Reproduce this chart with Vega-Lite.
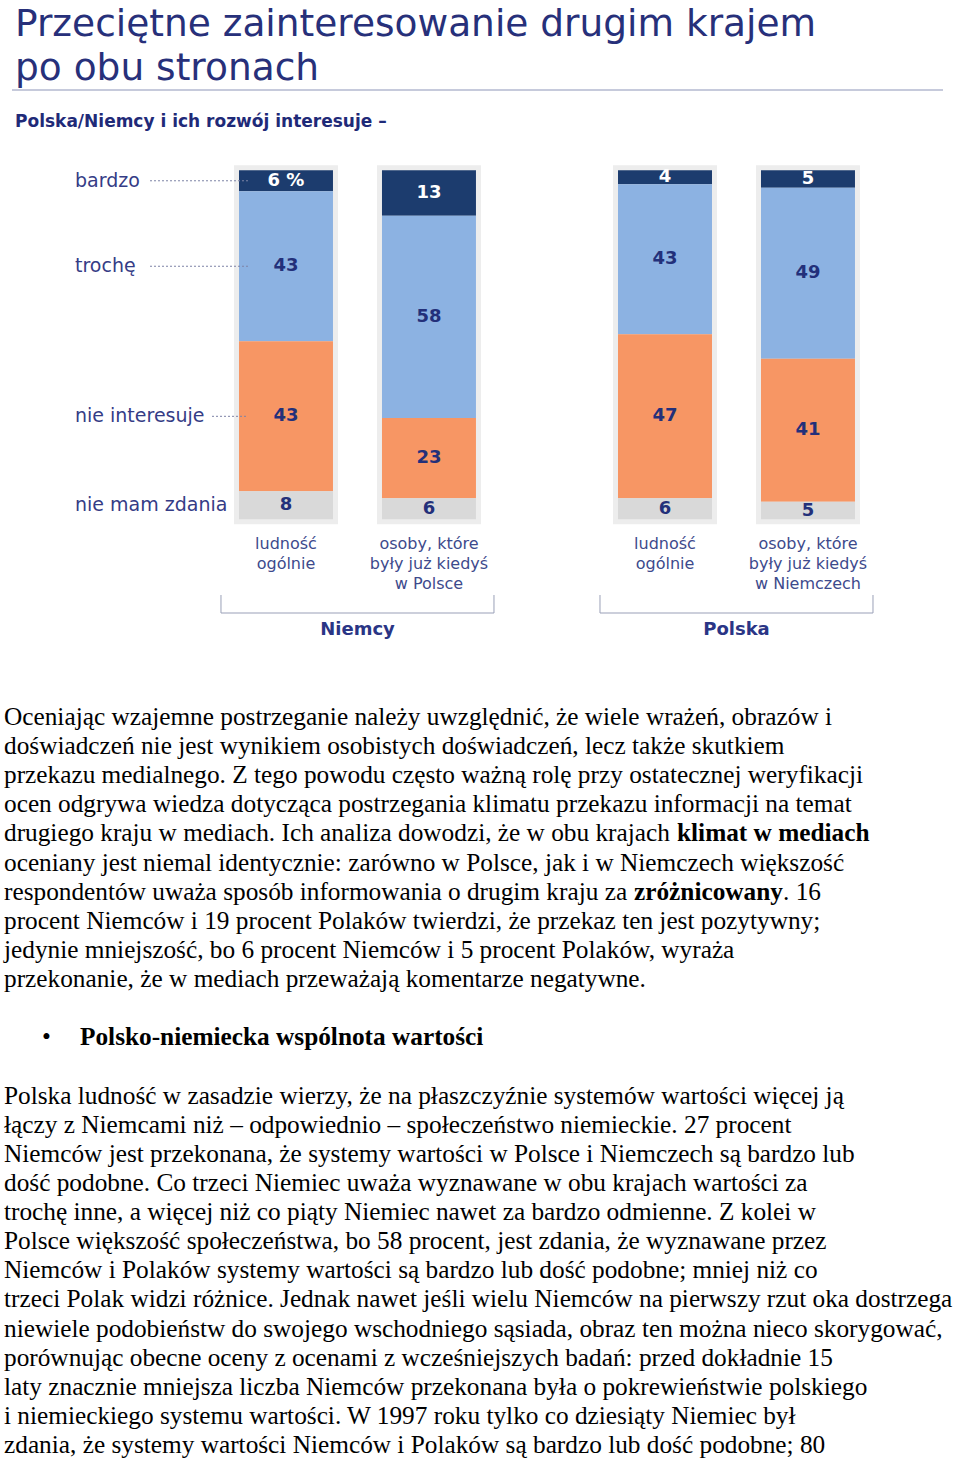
{
  "$schema": "https://vega.github.io/schema/vega-lite/v6.json",
  "width": 960,
  "height": 1458,
  "padding": 0,
  "autosize": {"type": "none"},
  "background": "white",
  "config": {"view": {"stroke": null}, "axis": {"disable": true}, "legend": {"disable": true}},
  "datasets": {
    "bars": [
      {"country": "Niemcy", "sample": "ludność ogólnie", "answer": "bardzo", "value": 6, "label": "6 %"},
      {"country": "Niemcy", "sample": "ludność ogólnie", "answer": "trochę", "value": 43, "label": "43"},
      {"country": "Niemcy", "sample": "ludność ogólnie", "answer": "nie interesuje", "value": 43, "label": "43"},
      {"country": "Niemcy", "sample": "ludność ogólnie", "answer": "nie mam zdania", "value": 8, "label": "8"},
      {"country": "Niemcy", "sample": "osoby, które były już kiedyś w drugim kraju", "answer": "bardzo", "value": 13, "label": "13"},
      {"country": "Niemcy", "sample": "osoby, które były już kiedyś w drugim kraju", "answer": "trochę", "value": 58, "label": "58"},
      {"country": "Niemcy", "sample": "osoby, które były już kiedyś w drugim kraju", "answer": "nie interesuje", "value": 23, "label": "23"},
      {"country": "Niemcy", "sample": "osoby, które były już kiedyś w drugim kraju", "answer": "nie mam zdania", "value": 6, "label": "6"},
      {"country": "Polska", "sample": "ludność ogólnie", "answer": "bardzo", "value": 4, "label": "4"},
      {"country": "Polska", "sample": "ludność ogólnie", "answer": "trochę", "value": 43, "label": "43"},
      {"country": "Polska", "sample": "ludność ogólnie", "answer": "nie interesuje", "value": 47, "label": "47"},
      {"country": "Polska", "sample": "ludność ogólnie", "answer": "nie mam zdania", "value": 6, "label": "6"},
      {"country": "Polska", "sample": "osoby, które były już kiedyś w drugim kraju", "answer": "bardzo", "value": 5, "label": "5"},
      {"country": "Polska", "sample": "osoby, które były już kiedyś w drugim kraju", "answer": "trochę", "value": 49, "label": "49"},
      {"country": "Polska", "sample": "osoby, które były już kiedyś w drugim kraju", "answer": "nie interesuje", "value": 41, "label": "41"},
      {"country": "Polska", "sample": "osoby, które były już kiedyś w drugim kraju", "answer": "nie mam zdania", "value": 5, "label": "5"}
    ],
    "groups": [
      {"country": "Niemcy", "sample": "ludność ogólnie", "label": "ludność\nogólnie"},
      {"country": "Niemcy", "sample": "osoby, które były już kiedyś w drugim kraju", "label": "osoby, które\nbyły już kiedyś\nw Polsce"},
      {"country": "Polska", "sample": "ludność ogólnie", "label": "ludność\nogólnie"},
      {"country": "Polska", "sample": "osoby, które były już kiedyś w drugim kraju", "label": "osoby, które\nbyły już kiedyś\nw Niemczech"}
    ],
    "countries": [{"country": "Niemcy"}, {"country": "Polska"}],
    "heading": [
      {"role": "title", "line": 0, "text": "Przeciętne zainteresowanie drugim krajem"},
      {"role": "title", "line": 1, "text": "po obu stronach"},
      {"role": "subtitle", "line": 0, "text": "Polska/Niemcy i ich rozwój interesuje –"}
    ],
    "body": [
      {"line": 0, "text": "Oceniając wzajemne postrzeganie należy uwzględnić, że wiele wrażeń, obrazów i"},
      {"line": 1, "text": "doświadczeń nie jest wynikiem osobistych doświadczeń, lecz także skutkiem"},
      {"line": 2, "text": "przekazu medialnego. Z tego powodu często ważną rolę przy ostatecznej weryfikacji"},
      {"line": 3, "text": "ocen odgrywa wiedza dotycząca postrzegania klimatu przekazu informacji na temat"},
      {"line": 4, "text": "drugiego kraju w mediach. Ich analiza dowodzi, że w obu krajach"},
      {"line": 5, "text": "oceniany jest niemal identycznie: zarówno w Polsce, jak i w Niemczech większość"},
      {"line": 6, "text": "respondentów uważa sposób informowania o drugim kraju za"},
      {"line": 7, "text": "procent Niemców i 19 procent Polaków twierdzi, że przekaz ten jest pozytywny;"},
      {"line": 8, "text": "jedynie mniejszość, bo 6 procent Niemców i 5 procent Polaków, wyraża"},
      {"line": 9, "text": "przekonanie, że w mediach przeważają komentarze negatywne."},
      {"line": 13, "text": "Polska ludność w zasadzie wierzy, że na płaszczyźnie systemów wartości więcej ją"},
      {"line": 14, "text": "łączy z Niemcami niż – odpowiednio – społeczeństwo niemieckie. 27 procent"},
      {"line": 15, "text": "Niemców jest przekonana, że systemy wartości w Polsce i Niemczech są bardzo lub"},
      {"line": 16, "text": "dość podobne. Co trzeci Niemiec uważa wyznawane w obu krajach wartości za"},
      {"line": 17, "text": "trochę inne, a więcej niż co piąty Niemiec nawet za bardzo odmienne. Z kolei w"},
      {"line": 18, "text": "Polsce większość społeczeństwa, bo 58 procent, jest zdania, że wyznawane przez"},
      {"line": 19, "text": "Niemców i Polaków systemy wartości są bardzo lub dość podobne; mniej niż co"},
      {"line": 20, "text": "trzeci Polak widzi różnice. Jednak nawet jeśli wielu Niemców na pierwszy rzut oka dostrzega"},
      {"line": 21, "text": "niewiele podobieństw do swojego wschodniego sąsiada, obraz ten można nieco skorygować,"},
      {"line": 22, "text": "porównując obecne oceny z ocenami z wcześniejszych badań: przed dokładnie 15"},
      {"line": 23, "text": "laty znacznie mniejsza liczba Niemców przekonana była o pokrewieństwie polskiego"},
      {"line": 24, "text": "i niemieckiego systemu wartości. W 1997 roku tylko co dziesiąty Niemiec był"},
      {"line": 25, "text": "zdania, że systemy wartości Niemców i Polaków są bardzo lub dość podobne; 80"}
    ],
    "pieces": [
      {"id": "a", "line": 4, "text": "klimat w mediach"},
      {"id": "b", "line": 6, "text": "zróżnicowany"},
      {"id": "c", "line": 6, "text": ". 16"},
      {"id": "d", "line": 11, "text": "•"},
      {"id": "e", "line": 11, "text": "Polsko-niemiecka wspólnota wartości"}
    ]
  },
  "resolve": {"scale": {"x": "independent", "y": "independent", "xOffset": "independent", "color": "independent"}},
  "layer": [
    {
      "data": {"name": "bars"},
      "transform": [
        {"calculate": "indexof(['nie mam zdania','nie interesuje','trochę','bardzo'], datum.answer)", "as": "ord"},
        {"stack": "value", "groupby": ["country", "sample"], "sort": [{"field": "ord", "order": "ascending"}], "as": ["v0", "v1"]}
      ],
      "mark": {"type": "bar", "fill": "#ededed", "stroke": "#ededed", "strokeWidth": 10},
      "encoding": {
        "x": {"field": "country", "type": "nominal", "scale": {"type": "band", "domain": ["Niemcy", "Polska"], "paddingInner": 0.2797, "paddingOuter": 0.4063, "align": 0.7175}, "axis": null},
        "xOffset": {"field": "sample", "type": "nominal", "scale": {"type": "band", "domain": ["ludność ogólnie", "osoby, które były już kiedyś w drugim kraju"], "paddingInner": 0.3427, "paddingOuter": 0.126}},
        "y": {"field": "v0", "type": "quantitative", "scale": {"domain": [-269, 148.8], "nice": false, "zero": false}, "axis": null},
        "y2": {"field": "v1"}
      }
    },
    {
      "data": {"name": "bars"},
      "transform": [
        {"calculate": "indexof(['nie mam zdania','nie interesuje','trochę','bardzo'], datum.answer)", "as": "ord"},
        {"stack": "value", "groupby": ["country", "sample"], "sort": [{"field": "ord", "order": "ascending"}], "as": ["v0", "v1"]}
      ],
      "mark": {"type": "bar"},
      "encoding": {
        "x": {"field": "country", "type": "nominal", "scale": {"type": "band", "domain": ["Niemcy", "Polska"], "paddingInner": 0.2797, "paddingOuter": 0.4063, "align": 0.7175}, "axis": null},
        "xOffset": {"field": "sample", "type": "nominal", "scale": {"type": "band", "domain": ["ludność ogólnie", "osoby, które były już kiedyś w drugim kraju"], "paddingInner": 0.3427, "paddingOuter": 0.126}},
        "y": {"field": "v0", "type": "quantitative", "scale": {"domain": [-269, 148.8], "nice": false, "zero": false}, "axis": null},
        "y2": {"field": "v1"},
        "color": {"field": "answer", "type": "nominal", "scale": {"domain": ["bardzo", "trochę", "nie interesuje", "nie mam zdania"], "range": ["#1c3c6e", "#8cb2e2", "#f79664", "#d9d9d9"]}, "legend": null}
      }
    },
    {
      "data": {"name": "bars"},
      "transform": [
        {"calculate": "indexof(['nie mam zdania','nie interesuje','trochę','bardzo'], datum.answer)", "as": "ord"},
        {"stack": "value", "groupby": ["country", "sample"], "sort": [{"field": "ord", "order": "ascending"}], "as": ["v0", "v1"]},
        {"calculate": "(datum.v0 + datum.v1) / 2", "as": "mid"}
      ],
      "mark": {"type": "text", "font": "DejaVu Sans", "fontSize": 18, "fontWeight": "bold", "align": "center", "baseline": "middle"},
      "encoding": {
        "x": {"field": "country", "type": "nominal", "bandPosition": 0.5, "scale": {"type": "band", "domain": ["Niemcy", "Polska"], "paddingInner": 0.2797, "paddingOuter": 0.4063, "align": 0.7175}, "axis": null},
        "xOffset": {"field": "sample", "type": "nominal", "scale": {"type": "band", "domain": ["ludność ogólnie", "osoby, które były już kiedyś w drugim kraju"], "paddingInner": 0.3427, "paddingOuter": 0.126}},
        "y": {"field": "mid", "type": "quantitative", "scale": {"domain": [-269, 148.8], "nice": false, "zero": false}, "axis": null},
        "text": {"field": "label"},
        "color": {"field": "answer", "type": "nominal", "scale": {"domain": ["bardzo", "trochę", "nie interesuje", "nie mam zdania"], "range": ["#ffffff", "#23307a", "#23307a", "#23307a"]}, "legend": null}
      }
    },
    {
      "data": {"name": "bars"},
      "transform": [
        {"calculate": "indexof(['nie mam zdania','nie interesuje','trochę','bardzo'], datum.answer)", "as": "ord"},
        {"stack": "value", "groupby": ["country", "sample"], "sort": [{"field": "ord", "order": "ascending"}], "as": ["v0", "v1"]},
        {"calculate": "(datum.v0 + datum.v1) / 2", "as": "mid"},
        {"filter": "datum.country === 'Niemcy' && datum.sample === 'ludność ogólnie' && (datum.answer === 'bardzo' || datum.answer === 'trochę')"}
      ],
      "mark": {"type": "rule", "stroke": "#7d83a6", "strokeWidth": 1, "strokeDash": [2, 2]},
      "encoding": {
        "x": {"datum": 150, "type": "quantitative", "scale": {"domain": [0, 960], "nice": false, "zero": false}, "axis": null},
        "x2": {"datum": 248},
        "y": {"field": "mid", "type": "quantitative", "scale": {"domain": [-269, 148.8], "nice": false, "zero": false}, "axis": null}
      }
    },
    {
      "data": {"name": "bars"},
      "transform": [
        {"calculate": "indexof(['nie mam zdania','nie interesuje','trochę','bardzo'], datum.answer)", "as": "ord"},
        {"stack": "value", "groupby": ["country", "sample"], "sort": [{"field": "ord", "order": "ascending"}], "as": ["v0", "v1"]},
        {"calculate": "(datum.v0 + datum.v1) / 2", "as": "mid"},
        {"filter": "datum.country === 'Niemcy' && datum.sample === 'ludność ogólnie' && datum.answer === 'nie interesuje'"}
      ],
      "mark": {"type": "rule", "stroke": "#7d83a6", "strokeWidth": 1, "strokeDash": [2, 2]},
      "encoding": {
        "x": {"datum": 212, "type": "quantitative", "scale": {"domain": [0, 960], "nice": false, "zero": false}, "axis": null},
        "x2": {"datum": 248},
        "y": {"field": "mid", "type": "quantitative", "scale": {"domain": [-269, 148.8], "nice": false, "zero": false}, "axis": null}
      }
    },
    {
      "data": {"name": "bars"},
      "transform": [
        {"calculate": "indexof(['nie mam zdania','nie interesuje','trochę','bardzo'], datum.answer)", "as": "ord"},
        {"stack": "value", "groupby": ["country", "sample"], "sort": [{"field": "ord", "order": "ascending"}], "as": ["v0", "v1"]},
        {"calculate": "(datum.v0 + datum.v1) / 2", "as": "mid"},
        {"filter": "datum.country === 'Niemcy' && datum.sample === 'ludność ogólnie'"}
      ],
      "mark": {"type": "text", "font": "DejaVu Sans", "fontSize": 19, "align": "left", "baseline": "middle", "color": "#353c86"},
      "encoding": {
        "x": {"datum": 75, "type": "quantitative", "scale": {"domain": [0, 960], "nice": false, "zero": false}, "axis": null},
        "y": {"field": "mid", "type": "quantitative", "scale": {"domain": [-269, 148.8], "nice": false, "zero": false}, "axis": null},
        "text": {"field": "answer"}
      }
    },
    {
      "data": {"name": "groups"},
      "mark": {"type": "text", "font": "DejaVu Sans", "fontSize": 16, "align": "center", "baseline": "alphabetic", "lineBreak": "\n", "lineHeight": 20, "color": "#3d4a8c"},
      "encoding": {
        "x": {"field": "country", "type": "nominal", "bandPosition": 0.5, "scale": {"type": "band", "domain": ["Niemcy", "Polska"], "paddingInner": 0.2797, "paddingOuter": 0.4063, "align": 0.7175}, "axis": null},
        "xOffset": {"field": "sample", "type": "nominal", "scale": {"type": "band", "domain": ["ludność ogólnie", "osoby, które były już kiedyś w drugim kraju"], "paddingInner": 0.3427, "paddingOuter": 0.126}},
        "y": {"datum": 549, "type": "quantitative", "scale": {"domain": [0, 1458], "reverse": true, "nice": false, "zero": false}, "axis": null},
        "text": {"field": "label"}
      }
    },
    {
      "data": {"name": "countries"},
      "mark": {"type": "rule", "stroke": "#9aa0b8", "strokeWidth": 1},
      "encoding": {
        "x": {"field": "country", "type": "nominal", "bandPosition": 0, "scale": {"type": "band", "domain": ["Niemcy", "Polska"], "paddingInner": 0.2797, "paddingOuter": 0.4063, "align": 0.7175}, "axis": null},
        "y": {"datum": 595, "type": "quantitative", "scale": {"domain": [0, 1458], "reverse": true, "nice": false, "zero": false}, "axis": null},
        "y2": {"datum": 613}
      }
    },
    {
      "data": {"name": "countries"},
      "mark": {"type": "rule", "stroke": "#9aa0b8", "strokeWidth": 1},
      "encoding": {
        "x": {"field": "country", "type": "nominal", "bandPosition": 1, "scale": {"type": "band", "domain": ["Niemcy", "Polska"], "paddingInner": 0.2797, "paddingOuter": 0.4063, "align": 0.7175}, "axis": null},
        "y": {"datum": 595, "type": "quantitative", "scale": {"domain": [0, 1458], "reverse": true, "nice": false, "zero": false}, "axis": null},
        "y2": {"datum": 613}
      }
    },
    {
      "data": {"name": "countries"},
      "mark": {"type": "bar", "fill": "#9aa0b8"},
      "encoding": {
        "x": {"field": "country", "type": "nominal", "scale": {"type": "band", "domain": ["Niemcy", "Polska"], "paddingInner": 0.2797, "paddingOuter": 0.4063, "align": 0.7175}, "axis": null},
        "y": {"datum": 612.5, "type": "quantitative", "scale": {"domain": [0, 1458], "reverse": true, "nice": false, "zero": false}, "axis": null},
        "y2": {"datum": 613.5}
      }
    },
    {
      "data": {"name": "countries"},
      "mark": {"type": "text", "font": "DejaVu Sans", "fontSize": 18, "fontWeight": "bold", "align": "center", "baseline": "middle", "color": "#2a3585"},
      "encoding": {
        "x": {"field": "country", "type": "nominal", "bandPosition": 0.5, "scale": {"type": "band", "domain": ["Niemcy", "Polska"], "paddingInner": 0.2797, "paddingOuter": 0.4063, "align": 0.7175}, "axis": null},
        "y": {"datum": 630, "type": "quantitative", "scale": {"domain": [0, 1458], "reverse": true, "nice": false, "zero": false}, "axis": null},
        "text": {"field": "country"}
      }
    },
    {
      "data": {"name": "heading"},
      "transform": [{"filter": "datum.role === 'title'"}],
      "mark": {"type": "text", "font": "DejaVu Sans", "fontSize": 37.5, "align": "left", "baseline": "alphabetic", "color": "#27307a"},
      "encoding": {
        "x": {"datum": 15, "type": "quantitative", "scale": {"domain": [0, 960], "nice": false, "zero": false}, "axis": null},
        "y": {"field": "line", "type": "quantitative", "scale": {"domain": [-0.8182, 32.318], "reverse": true, "nice": false, "zero": false}, "axis": null},
        "text": {"field": "text"}
      }
    },
    {
      "data": {"name": "heading"},
      "transform": [{"filter": "datum.role === 'subtitle'"}],
      "mark": {"type": "rule", "stroke": "#8d95b8", "strokeWidth": 1},
      "encoding": {
        "x": {"datum": 12, "type": "quantitative", "scale": {"domain": [0, 960], "nice": false, "zero": false}, "axis": null},
        "x2": {"datum": 943},
        "y": {"datum": 90, "type": "quantitative", "scale": {"domain": [0, 1458], "reverse": true, "nice": false, "zero": false}, "axis": null}
      }
    },
    {
      "data": {"name": "heading"},
      "transform": [{"filter": "datum.role === 'subtitle'"}],
      "mark": {"type": "text", "font": "DejaVu Sans", "fontSize": 17, "fontWeight": "bold", "align": "left", "baseline": "alphabetic", "color": "#1f2a78"},
      "encoding": {
        "x": {"datum": 15, "type": "quantitative", "scale": {"domain": [0, 960], "nice": false, "zero": false}, "axis": null},
        "y": {"datum": 127, "type": "quantitative", "scale": {"domain": [0, 1458], "reverse": true, "nice": false, "zero": false}, "axis": null},
        "text": {"field": "text"}
      }
    },
    {
      "data": {"name": "body"},
      "mark": {"type": "text", "font": "Liberation Serif", "fontSize": 25.3, "align": "left", "baseline": "alphabetic", "color": "#000000"},
      "encoding": {
        "x": {"datum": 4, "type": "quantitative", "scale": {"domain": [0, 960], "nice": false, "zero": false}, "axis": null},
        "y": {"field": "line", "type": "quantitative", "scale": {"domain": [-24.897, 25.172], "reverse": true, "nice": false, "zero": false}, "axis": null},
        "text": {"field": "text"}
      }
    },
    {
      "data": {"name": "pieces"},
      "transform": [{"filter": "datum.id === 'a'"}],
      "mark": {"type": "text", "font": "Liberation Serif", "fontSize": 25.3, "fontWeight": "bold", "align": "left", "baseline": "alphabetic", "color": "#000000"},
      "encoding": {
        "x": {"datum": 677, "type": "quantitative", "scale": {"domain": [0, 960], "nice": false, "zero": false}, "axis": null},
        "y": {"field": "line", "type": "quantitative", "scale": {"domain": [-24.897, 25.172], "reverse": true, "nice": false, "zero": false}, "axis": null},
        "text": {"field": "text"}
      }
    },
    {
      "data": {"name": "pieces"},
      "transform": [{"filter": "datum.id === 'b'"}],
      "mark": {"type": "text", "font": "Liberation Serif", "fontSize": 25.3, "fontWeight": "bold", "align": "left", "baseline": "alphabetic", "color": "#000000"},
      "encoding": {
        "x": {"datum": 634, "type": "quantitative", "scale": {"domain": [0, 960], "nice": false, "zero": false}, "axis": null},
        "y": {"field": "line", "type": "quantitative", "scale": {"domain": [-24.897, 25.172], "reverse": true, "nice": false, "zero": false}, "axis": null},
        "text": {"field": "text"}
      }
    },
    {
      "data": {"name": "pieces"},
      "transform": [{"filter": "datum.id === 'c'"}],
      "mark": {"type": "text", "font": "Liberation Serif", "fontSize": 25.3, "align": "left", "baseline": "alphabetic", "color": "#000000"},
      "encoding": {
        "x": {"datum": 783, "type": "quantitative", "scale": {"domain": [0, 960], "nice": false, "zero": false}, "axis": null},
        "y": {"field": "line", "type": "quantitative", "scale": {"domain": [-24.897, 25.172], "reverse": true, "nice": false, "zero": false}, "axis": null},
        "text": {"field": "text"}
      }
    },
    {
      "data": {"name": "pieces"},
      "transform": [{"filter": "datum.id === 'd'"}],
      "mark": {"type": "text", "font": "Liberation Serif", "fontSize": 25.3, "align": "left", "baseline": "alphabetic", "color": "#000000"},
      "encoding": {
        "x": {"datum": 42, "type": "quantitative", "scale": {"domain": [0, 960], "nice": false, "zero": false}, "axis": null},
        "y": {"field": "line", "type": "quantitative", "scale": {"domain": [-24.897, 25.172], "reverse": true, "nice": false, "zero": false}, "axis": null},
        "text": {"field": "text"}
      }
    },
    {
      "data": {"name": "pieces"},
      "transform": [{"filter": "datum.id === 'e'"}],
      "mark": {"type": "text", "font": "Liberation Serif", "fontSize": 25.3, "fontWeight": "bold", "align": "left", "baseline": "alphabetic", "color": "#000000"},
      "encoding": {
        "x": {"datum": 80, "type": "quantitative", "scale": {"domain": [0, 960], "nice": false, "zero": false}, "axis": null},
        "y": {"field": "line", "type": "quantitative", "scale": {"domain": [-24.897, 25.172], "reverse": true, "nice": false, "zero": false}, "axis": null},
        "text": {"field": "text"}
      }
    }
  ]
}
